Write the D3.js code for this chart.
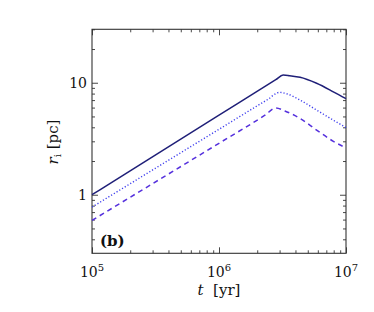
<!DOCTYPE html>
<html>
<head>
<meta charset="utf-8">
<script src="https://cdn.jsdelivr.net/npm/d3@7"></script>
<style>
  html, body { margin: 0; padding: 0; background: #fff; }
  svg { display: block; font-family: "DejaVu Serif", serif; }
</style>
</head>
<body>
<svg id="chart" width="374" height="312"></svg>
<script>
// data
const tSolid = [1e5, 1e6, 2.8e6, 3.2e6, 3.6e6, 4.35e6, 5.87e6, 7.95e6, 1e7];
const rSolid = [1.0, 5.13, 10.65, 11.7, 11.55, 11.2, 9.9, 8.3, 7.2];

const tDotted = [1e5, 1e6, 2.4e6, 3.0e6, 3.5e6, 4.35e6, 5.87e6, 7.95e6, 1e7];
const rDotted = [0.775, 3.84, 7.05, 8.2, 7.9, 7.0, 5.7, 4.63, 3.98];

const tDashed = [1e5, 1e6, 2.3e6, 2.8e6, 3.3e6, 4.35e6, 5.87e6, 7.95e6, 1e7];
const rDashed = [0.59, 2.88, 5.13, 5.95, 5.6, 4.8, 3.78, 3.0, 2.62];

const xMajor = [1e5, 1e6, 1e7];
const xExp = ["5", "6", "7"];
const yMajor = [1, 10];
const yLabels = ["1", "10"];

document.addEventListener("DOMContentLoaded", function () {
    const svg = d3.select("#chart");
    const margin = { top: 29.3, right: 28, bottom: 58.7, left: 92 };
    const width = 374, height = 312;

    const x = d3.scaleLog().domain([1e5, 1e7]).range([margin.left, width - margin.right]);
    const y = d3.scaleLog().domain([0.3, 30]).range([height - margin.bottom, margin.top]);

    const xMinor = [];
    [1e5, 1e6].forEach(d => { for (let k = 2; k <= 9; k++) xMinor.push(d * k); });
    const yMinor = [0.4, 0.5, 0.6, 0.7, 0.8, 0.9, 2, 3, 4, 5, 6, 7, 8, 9, 20, 30];

    const x0 = x.range()[0], x1 = x.range()[1];
    const y0 = y.range()[0], y1 = y.range()[1];

    // ticks pointing inward on all four sides
    function ticks(axisFn, scale, values, size, transform) {
        svg.append("g")
            .attr("transform", transform)
            .call(axisFn(scale).tickValues(values).tickSize(-size).tickSizeOuter(0).tickFormat(""))
            .call(g => g.select(".domain").remove())
            .call(g => g.selectAll("line").attr("stroke", "#333").attr("stroke-width", 0.9));
    }
    ticks(d3.axisBottom, x, xMajor, 6, `translate(0,${y0})`);
    ticks(d3.axisBottom, x, xMinor, 3, `translate(0,${y0})`);
    ticks(d3.axisTop, x, xMajor, 6, `translate(0,${y1})`);
    ticks(d3.axisTop, x, xMinor, 3, `translate(0,${y1})`);
    ticks(d3.axisLeft, y, yMajor, 6, `translate(${x0},0)`);
    ticks(d3.axisLeft, y, yMinor, 3, `translate(${x0},0)`);
    ticks(d3.axisRight, y, yMajor, 6, `translate(${x1},0)`);
    ticks(d3.axisRight, y, yMinor, 3, `translate(${x1},0)`);

    // frame
    svg.append("rect")
        .attr("x", x0).attr("y", y1)
        .attr("width", x1 - x0).attr("height", y0 - y1)
        .attr("fill", "none").attr("stroke", "#333").attr("stroke-width", 1.1);

    // x tick labels 10^n
    const xl = svg.append("g").selectAll("text")
        .data(xMajor)
        .enter().append("text")
        .attr("x", d => x(d))
        .attr("y", 277)
        .attr("text-anchor", "middle")
        .attr("font-size", 14)
        .attr("fill", "#111");
    xl.append("tspan").text("10");
    xl.append("tspan").attr("font-size", 10).attr("dy", -6).text((d, i) => xExp[i]);

    // y tick labels
    svg.append("g").selectAll("text")
        .data(yMajor)
        .enter().append("text")
        .attr("x", 87)
        .attr("y", d => y(d) + 5)
        .attr("text-anchor", "end")
        .attr("font-size", 14)
        .attr("fill", "#111")
        .text((d, i) => yLabels[i]);

    // axis titles
    const xt = svg.append("text")
        .attr("x", x(1e6))
        .attr("y", 295)
        .attr("text-anchor", "middle")
        .attr("font-size", 15)
        .attr("fill", "#111");
    xt.append("tspan").attr("font-style", "italic").text("t");
    xt.append("tspan").text("\u00a0\u00a0[yr]");

    const yt = svg.append("text")
        .attr("transform", "translate(58,142) rotate(-90)")
        .attr("text-anchor", "middle")
        .attr("font-size", 15)
        .attr("fill", "#111");
    yt.append("tspan").attr("font-style", "italic").text("r");
    yt.append("tspan").attr("font-size", 10).attr("dy", 3).text("i");
    yt.append("tspan").attr("dy", -3).text("\u00a0[pc]");

    // panel label
    svg.append("text")
        .attr("x", 100)
        .attr("y", 246)
        .attr("font-size", 15)
        .attr("font-weight", "bold")
        .attr("fill", "#111")
        .text("(b)");

    // curves
    const line = d3.line()
        .x(d => x(d[0]))
        .y(d => y(d[1]))
        .curve(d3.curveMonotoneX);

    const series = [
        { t: tSolid, r: rSolid, color: "#1f1f78", dash: null, w: 1.5 },
        { t: tDotted, r: rDotted, color: "#4040ee", dash: "1.2,2", w: 1.4 },
        { t: tDashed, r: rDashed, color: "#5530dd", dash: "5,4", w: 1.5 }
    ];

    svg.append("g").selectAll("path")
        .data(series)
        .enter().append("path")
        .attr("d", s => line(s.t.map((t, i) => [t, s.r[i]])))
        .attr("fill", "none")
        .attr("stroke", s => s.color)
        .attr("stroke-width", s => s.w)
        .attr("stroke-dasharray", s => s.dash);
});
</script>
</body>
</html>
